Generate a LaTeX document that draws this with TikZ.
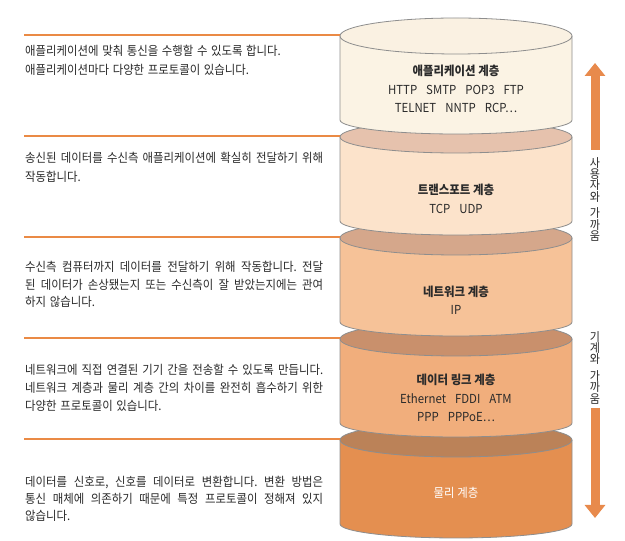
\documentclass[tikz,border=0pt]{standalone}
\usepackage{fontspec}
\setmainfont{Noto Sans CJK KR}[FakeStretch=0.92]
\usetikzlibrary{arrows.meta}
\definecolor{cylline}{HTML}{8E8E8E}
\definecolor{orangeline}{HTML}{EA8A45}
\definecolor{arrowc}{HTML}{E88A4C}
\definecolor{txt}{HTML}{2A2A2A}
\definecolor{bodyA}{HTML}{FBF3E4}
\definecolor{topA}{HTML}{FAF1E2}
\definecolor{bodyB}{HTML}{FCE3CB}
\definecolor{topB}{HTML}{E6C2AD}
\definecolor{bodyC}{HTML}{F6C298}
\definecolor{topC}{HTML}{D5A78B}
\definecolor{bodyD}{HTML}{F1AE7C}
\definecolor{topD}{HTML}{C9906C}
\definecolor{bodyE}{HTML}{E48F50}
\definecolor{topE}{HTML}{BB8258}
\newcommand{\drawlayer}[4]{%
  \fill[#2] (340,{541-#1}) -- (340,{541-#1-84}) arc[start angle=180,end angle=360,x radius=116,y radius=14] -- (572,{541-#1}) -- cycle;
  \filldraw[fill=#3, draw=cylline, line width=0.8pt] (456,{541-#1}) ellipse[x radius=116, y radius=#4];
  \draw[cylline, line width=0.8pt] (340,{541-#1}) -- (340,{541-#1-84}) arc[start angle=180,end angle=360,x radius=116,y radius=14] -- (572,{541-#1});
}
\newcommand{\descfont}{\fontsize{12.4}{13}\selectfont\spaceskip 3.6pt plus 8pt minus 1pt\relax}
\tikzset{
  desc/.style={anchor=base west, inner sep=0pt, text=txt, font=\descfont},
  lname/.style={anchor=base, inner sep=0pt, text=txt, font=\fontsize{12.4}{13}\selectfont\bfseries},
  proto/.style={anchor=base, inner sep=0pt, text=txt, font=\fontsize{12.4}{13}\selectfont},
  vtext/.style={align=center, inner sep=0pt, text=txt, font=\fontsize{12}{11.4}\selectfont},
  sepline/.style={orangeline, line width=1.6pt},
  bigarrow/.style={arrowc, line width=9pt, -{Triangle[width=20pt,length=13pt]}}
}
\newcommand{\jline}[1]{\makebox[298pt][s]{#1}}
\newcommand{\gap}{\hspace{9pt}}
\frenchspacing
\begin{document}
\begin{tikzpicture}[x=1pt,y=1pt]
\useasboundingbox (0,0) rectangle (625,541);
\fill[white] (0,0) rectangle (625,541);
% cylinders, bottom first
\drawlayer{440}{bodyE}{topE}{17}
\drawlayer{339}{bodyD}{topD}{17}
\drawlayer{238}{bodyC}{topC}{17}
\drawlayer{137}{bodyB}{topB}{16}
\drawlayer{36}{bodyA}{topA}{18}
% separator lines
\foreach \i/\yy in {1/35,2/136,3/237,4/338,5/439}{
  \coordinate (la\i) at (24,{541-\yy});
  \coordinate (lb\i) at (340,{541-\yy});
  \draw[sepline] (la\i) -- (lb\i);
}
% layer texts
\node[lname] (n1) at (456,{541-76}) {애플리케이션 계층};
\node[proto] (p1a) at (456,{541-95}) {HTTP\gap SMTP\gap POP3\gap FTP};
\node[proto] (p1b) at (456,{541-113}) {TELNET\gap NNTP\gap RCP…};
\node[lname] (n2) at (456,{541-195}) {트랜스포트 계층};
\node[proto] (p2) at (456,{541-214}) {TCP\gap UDP};
\node[lname] (n3) at (456,{541-297}) {네트워크 계층};
\node[proto] (p3) at (456,{541-315}) {IP};
\node[lname] (n4) at (456,{541-385}) {데이터 링크 계층};
\node[proto] (p4a) at (456,{541-404}) {Ethernet\gap FDDI\gap ATM};
\node[proto] (p4b) at (456,{541-422}) {PPP\gap PPPoE…};
\node[lname, font=\fontsize{12.4}{13}\selectfont, text=white] (n5) at (456,{541-498}) {물리 계층};
% descriptions
\node[desc] (d1a) at (25,{541-56}) {애플리케이션에 맞춰 통신을 수행할 수 있도록 합니다.};
\node[desc] (d1b) at (25,{541-75}) {애플리케이션마다 다양한 프로토콜이 있습니다.};
\node[desc] (d2a) at (25,{541-163}) {\jline{송신된 데이터를 수신측 애플리케이션에 확실히 전달하기 위해}};
\node[desc] (d2b) at (25,{541-182}) {작동합니다.};
\node[desc] (d3a) at (25,{541-272}) {\jline{수신측 컴퓨터까지 데이터를 전달하기 위해 작동합니다. 전달}};
\node[desc] (d3b) at (25,{541-290}) {\jline{된 데이터가 손상됐는지 또는 수신측이 잘 받았는지에는 관여}};
\node[desc] (d3c) at (25,{541-307}) {하지 않습니다.};
\node[desc] (d4a) at (25,{541-375}) {\jline{네트워크에 직접 연결된 기기 간을 전송할 수 있도록 만듭니다.}};
\node[desc] (d4b) at (25,{541-393}) {\jline{네트워크 계층과 물리 계층 간의 차이를 완전히 흡수하기 위한}};
\node[desc] (d4c) at (25,{541-411}) {다양한 프로토콜이 있습니다.};
\node[desc] (d5a) at (25,{541-487}) {\jline{데이터를 신호로, 신호를 데이터로 변환합니다. 변환 방법은}};
\node[desc] (d5b) at (25,{541-504}) {\jline{통신 매체에 의존하기 때문에 특정 프로토콜이 정해져 있지}};
\node[desc] (d5c) at (25,{541-521}) {않습니다.};
% right arrows and labels
\coordinate (ua) at (595,{541-150});
\coordinate (ub) at (595,{541-63});
\draw[bigarrow] (ua) -- (ub);
\coordinate (da) at (595,{541-408});
\coordinate (db) at (595,{541-518});
\draw[bigarrow] (da) -- (db);
\node[vtext, anchor=north] (v1) at (595,{541-157}) {사\\용\\자\\와\\[5pt]가\\까\\움};
\node[vtext, anchor=north] (v2) at (595,{541-331}) {기\\계\\와\\[5pt]가\\까\\움};
\end{tikzpicture}
\end{document}
